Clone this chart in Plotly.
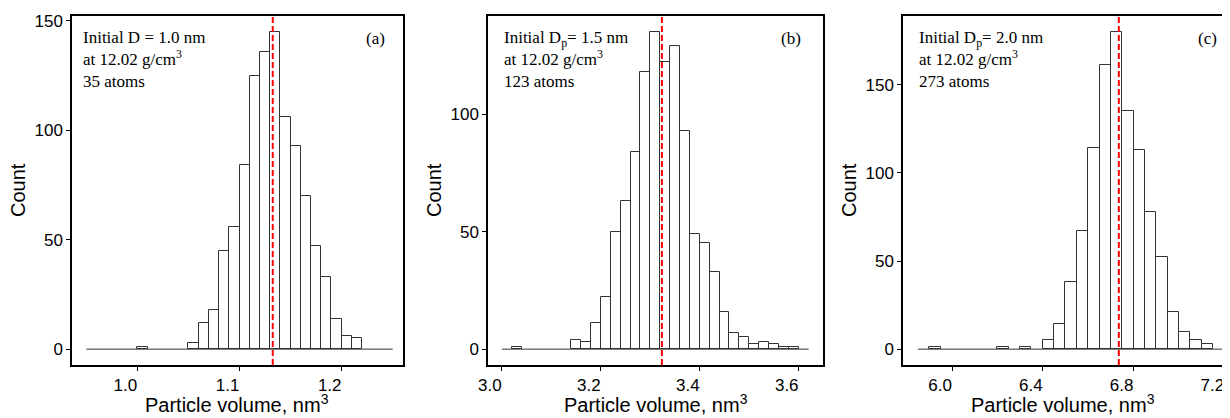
import plotly.graph_objects as go

# panel (a): 35 atoms, bin width 0.01 nm^3
a_bin_left = [1.00, 1.05, 1.06, 1.07, 1.08, 1.09, 1.10, 1.11, 1.12, 1.13,
              1.14, 1.15, 1.16, 1.17, 1.18, 1.19, 1.20, 1.21]
a_counts = [1, 3, 12, 18, 45, 56, 84, 125, 136, 145,
            106, 93, 70, 47, 33, 14, 6, 5]
a_width = 0.01
a_span = [0.95, 1.25]
a_mean = 1.1325

# panel (b): 123 atoms, bin width 0.02 nm^3
b_bin_left = [3.02, 3.14, 3.16, 3.18, 3.20, 3.22, 3.24, 3.26, 3.28, 3.30,
              3.32, 3.34, 3.36, 3.38, 3.40, 3.42, 3.44, 3.46, 3.48, 3.50,
              3.52, 3.54, 3.56, 3.58]
b_counts = [1, 4, 3, 11, 22, 50, 63, 84, 118, 135,
            122, 129, 93, 49, 45, 33, 16, 7, 5, 2,
            3, 2, 1, 1]
b_width = 0.02
b_span = [3.00, 3.62]
b_mean = 3.3234

# panel (c): 273 atoms, bin width 0.05 nm^3
c_bin_left = [5.90, 6.20, 6.30, 6.40, 6.45, 6.50, 6.55, 6.60, 6.65, 6.70,
              6.75, 6.80, 6.85, 6.90, 6.95, 7.00, 7.05, 7.10]
c_counts = [1, 1, 1, 5, 14, 38, 67, 114, 161, 180,
            135, 113, 78, 52, 21, 10, 5, 3]
c_width = 0.05
c_span = [5.85, 7.20]
c_mean = 6.735

labels = ['(a)', '(b)', '(c)']
info = [
    'Initial D = 1.0 nm<br>at 12.02 g/cm<sup>3</sup><br>35 atoms',
    'Initial D<sub>p</sub>= 1.5 nm<br>at 12.02 g/cm<sup>3</sup><br>123 atoms',
    'Initial D<sub>p</sub>= 2.0 nm<br>at 12.02 g/cm<sup>3</sup><br>273 atoms',
]
x_ticks = [[1.0, 1.1, 1.2], [3.0, 3.2, 3.4, 3.6], [6.0, 6.4, 6.8, 7.2]]
y_ticks = [[0, 50, 100, 150], [0, 50, 100], [0, 50, 100, 150]]

# the page body adds an 8px margin, so the figure is 8px smaller
# and every screen position below is shifted by OFF
OFF = 8
W, H = 1230 - OFF, 418 - OFF


def px(s):
    return (s - OFF) / W


def py(s):
    return 1 - (s - OFF) / H


# plot boxes in screen pixels (left, right)
boxes = [(72, 403), (488, 823), (903, 1230)]
box_top, box_bottom = 16, 365
x_ranges = [[0.936, 1.26], [2.972, 3.649], [5.784, 7.225]]

panels = [
    (a_bin_left, a_counts, a_width, a_span, a_mean),
    (b_bin_left, b_counts, b_width, b_span, b_mean),
    (c_bin_left, c_counts, c_width, c_span, c_mean),
]

fig = go.Figure()
shapes = []
annotations = []
tick_font = dict(family='Liberation Sans, Arial, sans-serif', size=17, color='black')
title_font = dict(family='Liberation Sans, Arial, sans-serif', size=20, color='black')
serif = dict(family='Liberation Serif, Times New Roman, serif', size=17, color='black')

for i, (left, counts, width, span, mean) in enumerate(panels):
    n = '' if i == 0 else str(i + 1)
    xa, ya = 'x' + n, 'y' + n

    # zero-count bins show up as a flat line along the baseline
    fig.add_trace(go.Scatter(
        x=span, y=[0, 0], mode='lines',
        line=dict(color='#333333', width=1),
        xaxis=xa, yaxis=ya, hoverinfo='skip', showlegend=False
    ))
    fig.add_trace(go.Bar(
        x=[v + width / 2 for v in left], y=counts, width=width,
        marker=dict(color='white', line=dict(color='#333333', width=1)),
        xaxis=xa, yaxis=ya, showlegend=False
    ))

    shapes.append(dict(
        type='line', xref=xa, yref=ya + ' domain',
        x0=mean, x1=mean, y0=0, y1=1,
        line=dict(color='#ff0000', width=2, dash='6px,3px')
    ))

    l, r = boxes[i]
    ymax = max(counts)
    fig.layout['xaxis' + n] = dict(
        domain=[px(l), min(px(r), 1.0)], anchor=ya, range=x_ranges[i],
        tickvals=x_ticks[i], ticktext=['%.1f' % v for v in x_ticks[i]],
        ticks='outside', ticklen=4, tickcolor='black', tickwidth=1,
        ticklabelshift=-12, ticklabeloverflow='allow',
        showline=True, linecolor='black', linewidth=1.5, mirror=True,
        showgrid=False, zeroline=False, tickfont=tick_font, automargin=False
    )
    fig.layout['yaxis' + n] = dict(
        domain=[py(box_bottom), py(box_top)], anchor=xa,
        range=[-0.05 * ymax, 1.05 * ymax],
        tickvals=y_ticks[i],
        ticks='outside', ticklen=4, tickcolor='black', tickwidth=1,
        showline=True, linecolor='black', linewidth=1.5, mirror=True,
        showgrid=False, zeroline=False, tickfont=tick_font, automargin=False
    )

    # axis titles
    title_x = (l + r) / 2 if i < 2 else (l + 1223) / 2
    annotations.append(dict(
        text='Particle volume, nm<sup>3</sup>', xref='paper', yref='paper',
        x=px(title_x), y=0, xanchor='center', yanchor='bottom',
        showarrow=False, font=title_font
    ))
    annotations.append(dict(
        text='Count', xref='paper', yref='paper',
        x=px(l - 54), y=py(190), textangle=-90,
        xanchor='center', yanchor='middle', showarrow=False, font=title_font
    ))
    # info text and panel label
    pad = 9 if i == 0 else 14
    annotations.append(dict(
        text=info[i], xref='paper', yref='paper',
        x=px(l + pad), y=py(26), xanchor='left', yanchor='top',
        align='left', showarrow=False, font=serif
    ))
    lab_x = [375, 791, 1207][i]
    annotations.append(dict(
        text=labels[i], xref='paper', yref='paper',
        x=px(lab_x), y=py(39), xanchor='center', yanchor='middle',
        showarrow=False, font=serif
    ))

fig.update_layout(
    template='none',
    width=W, height=H,
    margin=dict(l=0, r=0, t=0, b=0),
    paper_bgcolor='white', plot_bgcolor='white',
    bargap=0, shapes=shapes, annotations=annotations
)

fig.write_html('out.html')
